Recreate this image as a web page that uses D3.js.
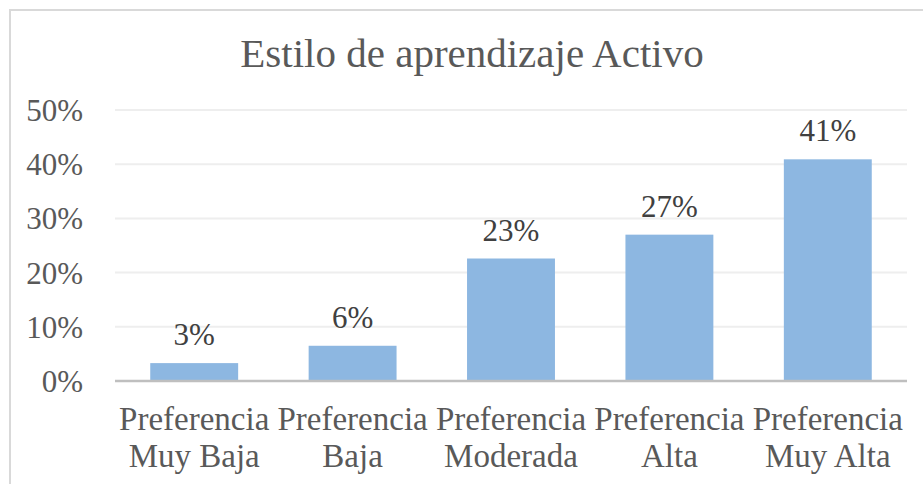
<!DOCTYPE html>
<html lang='es'>
  <head>
    <meta charset='utf-8'>
    <title>Estilo de aprendizaje Activo</title>
    <script src='https://cdn.jsdelivr.net/npm/d3@7/dist/d3.min.js'></script>
    <style>
      body { margin: 0; background: #fff; }
      text { font-family: 'Liberation Serif', 'Times New Roman', serif; }
    </style>
  </head>
  <body>
    <script>
      // data
      var categories = [['Preferencia', 'Muy Baja'], ['Preferencia', 'Baja'], ['Preferencia', 'Moderada'],
                        ['Preferencia', 'Alta'], ['Preferencia', 'Muy Alta']];
      var values = [0.033, 0.065, 0.226, 0.27, 0.409];
      var labels = ['3%', '6%', '23%', '27%', '41%'];
      var yTicks = [0, 0.1, 0.2, 0.3, 0.4, 0.5];

      var w = 923, h = 484;
      var plotLeft = 115, plotRight = 907, plotTop = 110, plotBottom = 381;

      var svg = d3.select('body').append('svg')
                  .attr('width', w)
                  .attr('height', h);

      // chart border (cut off at right and bottom)
      svg.append('path')
         .attr('d', 'M10,' + h + 'V10H' + w)
         .attr('fill', 'none')
         .attr('stroke', '#d9d9d9')
         .attr('stroke-width', 2);

      var x = d3.scaleBand()
                .domain(d3.range(values.length))
                .range([plotLeft, plotRight])
                .paddingInner(0.445)
                .paddingOuter(0.2225);

      var y = d3.scaleLinear()
                .domain([0, 0.5])
                .range([plotBottom, plotTop]);

      svg.append('text')
         .attr('x', 472)
         .attr('y', 67)
         .attr('text-anchor', 'middle')
         .attr('font-size', '41px')
         .attr('fill', '#595959')
         .text('Estilo de aprendizaje Activo');

      // gridlines
      svg.selectAll('line.grid')
         .data(yTicks.slice(1))
         .enter()
         .append('line')
         .attr('class', 'grid')
         .attr('x1', plotLeft)
         .attr('x2', plotRight)
         .attr('y1', function(d){ return y(d); })
         .attr('y2', function(d){ return y(d); })
         .attr('stroke', '#eeeeee')
         .attr('stroke-width', 2);

      svg.selectAll('text.ytick')
         .data(yTicks)
         .enter()
         .append('text')
         .attr('class', 'ytick')
         .attr('x', 83)
         .attr('y', function(d){ return y(d) + 11; })
         .attr('text-anchor', 'end')
         .attr('font-size', '31px')
         .attr('fill', '#595959')
         .text(function(d){ return d3.format('.0%')(d); });

      svg.selectAll('rect.bar')
         .data(values)
         .enter()
         .append('rect')
         .attr('class', 'bar')
         .attr('x', function(d, i){ return x(i); })
         .attr('y', function(d){ return y(d); })
         .attr('width', x.bandwidth())
         .attr('height', function(d){ return plotBottom - y(d); })
         .attr('fill', '#8db7e1');

      // axis line
      svg.append('line')
         .attr('x1', plotLeft)
         .attr('x2', plotRight)
         .attr('y1', plotBottom)
         .attr('y2', plotBottom)
         .attr('stroke', '#bfbfbf')
         .attr('stroke-width', 2.5);

      svg.selectAll('text.value')
         .data(values)
         .enter()
         .append('text')
         .attr('class', 'value')
         .attr('x', function(d, i){ return x(i) + x.bandwidth() / 2; })
         .attr('y', function(d){ return y(d) - 18; })
         .attr('text-anchor', 'middle')
         .attr('font-size', '31px')
         .attr('fill', '#404040')
         .text(function(d, i){ return labels[i]; });

      var cat = svg.selectAll('text.cat')
                   .data(categories)
                   .enter()
                   .append('text')
                   .attr('class', 'cat')
                   .attr('text-anchor', 'middle')
                   .attr('font-size', '33px')
                   .attr('fill', '#595959');

      cat.selectAll('tspan')
         .data(function(d, i){ return d.map(function(s){ return {s: s, i: i}; }); })
         .enter()
         .append('tspan')
         .attr('x', function(d){ return x(d.i) + x.bandwidth() / 2; })
         .attr('y', function(d, j){ return 430 + j * 37; })
         .text(function(d){ return d.s; });
    </script>
  </body>
</html>
